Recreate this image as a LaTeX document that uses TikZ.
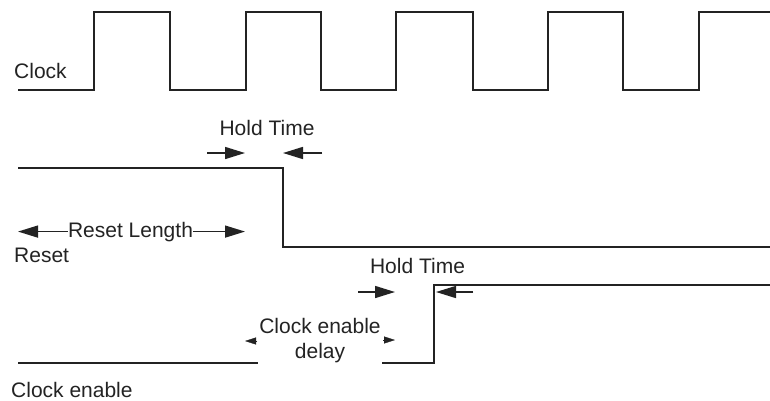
\documentclass[tikz,border=0pt]{standalone}
\usepackage{fontspec}
\setmainfont{Liberation Sans}
\usetikzlibrary{arrows.meta}
\definecolor{ink}{RGB}{35,35,35}
\begin{document}
\begin{tikzpicture}[x=1pt,y=-1pt,
  wave/.style={draw=ink,line width=1.8pt,line join=miter},
  arr/.style={draw=ink,fill=ink,line width=1.5pt,-{Triangle[length=20pt,width=12pt]}},
  smallarr/.style={draw=ink,fill=ink,line width=0.4pt,-{Triangle[length=11pt,width=7pt]}},
  lbl/.style={inner sep=0pt,text=ink,font=\fontsize{21}{25}\selectfont}]
\useasboundingbox (0,0) rectangle (770,400);
% Clock waveform
\draw[wave] (18,90) -- (94,90) -- (94,12) -- (170,12) -- (170,90) -- (246,90) -- (246,12)
  -- (321,12) -- (321,90) -- (396,90) -- (396,12) -- (473,12) -- (473,90) -- (548,90)
  -- (548,12) -- (623,12) -- (623,90) -- (699,90) -- (699,12) -- (771,12);
\node[lbl,anchor=base west] (clk) at (14,78) {Clock};
% Reset waveform
\draw[wave] (18,168) -- (283,168) -- (283,247) -- (771,247);
\node[lbl,anchor=base west] (rst) at (14,262) {Reset};
% Hold time (reset)
\node[lbl,anchor=base] (ht1) at (267,135) {Hold Time};
\coordinate (h1a) at (207,153); \coordinate (h1b) at (245,153);
\coordinate (h1c) at (322,153); \coordinate (h1d) at (283,153);
\draw[arr] (h1a) -- (h1b);
\draw[arr] (h1c) -- (h1d);
% Reset length
\node[lbl,anchor=base] (rl) at (130.5,237) {Reset Length};
\coordinate (rlL) at (18,231); \coordinate (rlR) at (245,231);
\draw[arr] (rl.west) -- (rl.west -| rlL);
\draw[arr] (rl.east) -- (rl.east -| rlR);
% Clock enable waveform
\draw[wave] (18,363) -- (258,363);
\draw[wave] (382,363) -- (434,363) -- (434,285) -- (771,285);
\node[lbl,anchor=base west] (ce) at (11,397) {Clock enable};
% Clock enable delay
\node[lbl,anchor=base] (ced1) at (320,333) {Clock enable};
\node[lbl,anchor=base] (ced2) at (320,358) {delay};
\coordinate (dl1) at (257,341); \coordinate (dl2) at (245,341);
\coordinate (dr1) at (383,340); \coordinate (dr2) at (395,340);
\draw[smallarr] (dl1) -- (dl2);
\draw[smallarr] (dr1) -- (dr2);
% Hold time (clock enable)
\node[lbl,anchor=base] (ht2) at (417.5,273) {Hold Time};
\coordinate (h2a) at (358,292); \coordinate (h2b) at (395,292);
\coordinate (h2c) at (473,292); \coordinate (h2d) at (436,292);
\draw[arr] (h2a) -- (h2b);
\draw[arr] (h2c) -- (h2d);
\end{tikzpicture}
\end{document}
